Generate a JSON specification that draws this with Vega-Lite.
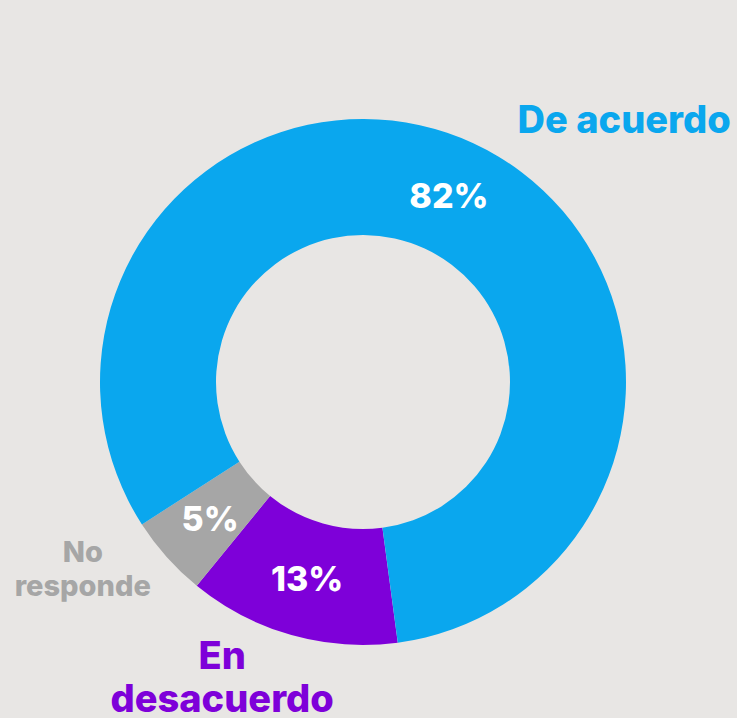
{
  "$schema": "https://vega.github.io/schema/vega-lite/v6.json",
  "width": 726,
  "height": 672,
  "autosize": "none",
  "padding": {"left": 0, "top": 46, "right": 11, "bottom": 0},
  "background": "#E8E6E4",
  "config": {"view": {"stroke": null}, "font": "Inter"},
  "data": {
    "values": [
      {"categoria": "En desacuerdo", "valor": 13, "orden": 1, "etiqueta": "13%"},
      {"categoria": "No responde", "valor": 5, "orden": 2, "etiqueta": "5%"},
      {"categoria": "De acuerdo", "valor": 82, "orden": 3, "etiqueta": "82%"}
    ]
  },
  "encoding": {
    "theta": {"field": "valor", "type": "quantitative", "stack": true, "scale": {"range": [3.009, 9.292]}},
    "order": {"field": "orden", "type": "quantitative", "sort": "ascending"}
  },
  "layer": [
    {
      "mark": {"type": "arc", "outerRadius": 263, "innerRadius": 147},
      "encoding": {
        "color": {
          "field": "categoria",
          "type": "nominal",
          "scale": {"domain": ["De acuerdo", "En desacuerdo", "No responde"], "range": ["#0AA7EE", "#7E00D9", "#A6A6A6"]},
          "legend": null
        }
      }
    },
    {
      "mark": {"type": "text", "radius": 205, "fontSize": 34, "fontWeight": 800, "color": "white", "align": "center", "baseline": "middle", "dy": 2},
      "encoding": {"text": {"field": "etiqueta"}}
    },
    {
      "mark": {"type": "text", "radius": 370, "fontSize": 38, "fontWeight": 800, "color": "#0AA7EE", "align": "center", "baseline": "middle", "dx": 106, "dy": 76},
      "encoding": {"text": {"condition": {"test": "datum.categoria === 'De acuerdo'", "field": "categoria"}, "value": ""}}
    },
    {
      "mark": {"type": "text", "radius": 330, "fontSize": 38, "fontWeight": 800, "color": "#7E00D9", "align": "center", "baseline": "middle", "lineBreak": " ", "lineHeight": 43, "dx": -51, "dy": -42},
      "encoding": {"text": {"condition": {"test": "datum.categoria === 'En desacuerdo'", "field": "categoria"}, "value": ""}}
    },
    {
      "mark": {"type": "text", "radius": 337, "fontSize": 29, "fontWeight": 800, "color": "#A6A6A6", "align": "center", "baseline": "middle", "lineBreak": " ", "lineHeight": 34, "dx": -29, "dy": -54},
      "encoding": {"text": {"condition": {"test": "datum.categoria === 'No responde'", "field": "categoria"}, "value": ""}}
    }
  ]
}
